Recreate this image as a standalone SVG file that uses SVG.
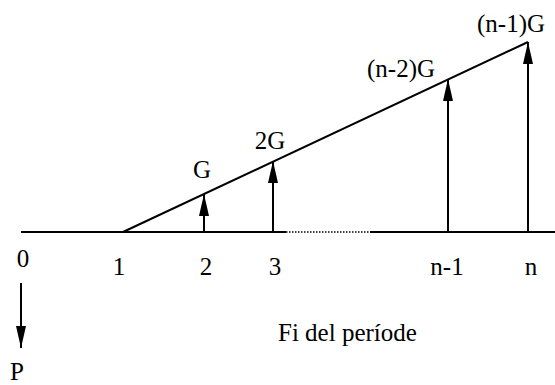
<svg xmlns="http://www.w3.org/2000/svg" width="555" height="385" viewBox="0 0 555 385">
<style>
text{font-family:"Liberation Serif","Times New Roman",serif;font-size:25px;fill:#000}
.ln{stroke:#000;stroke-width:2;fill:none}
.dot{stroke:#000;stroke-width:1.5;stroke-dasharray:1.5 1.5;fill:none}
</style>
<defs>
<marker id="ah" viewBox="0 0 22 10" refX="22" refY="5" markerWidth="22" markerHeight="10" markerUnits="userSpaceOnUse" orient="auto">
<path d="M0,0 L22,5 L0,10 Z" fill="#000"/>
</marker>
</defs>
<rect width="555" height="385" fill="#fff"/>
<g id="axis">
<line class="ln" x1="21" y1="232" x2="286" y2="232"/>
<line class="dot" x1="286" y1="232" x2="370" y2="232"/>
<line class="ln" x1="370" y1="232" x2="555" y2="232"/>
<line class="ln" x1="123" y1="232" x2="528" y2="42"/>
</g>
<g id="connectors">
<line class="ln" x1="204" y1="232" x2="204" y2="194" marker-end="url(#ah)"/>
<line class="ln" x1="273" y1="232" x2="273" y2="161" marker-end="url(#ah)"/>
<line class="ln" x1="448" y1="232" x2="448" y2="79" marker-end="url(#ah)"/>
<line class="ln" x1="528" y1="232" x2="528" y2="42" marker-end="url(#ah)"/>
<line class="ln" x1="21" y1="283" x2="21" y2="348" marker-end="url(#ah)"/>
</g>
<g id="labels">
<text x="23" y="267" text-anchor="middle">0</text>
<text x="119" y="275" text-anchor="middle">1</text>
<text x="206" y="275" text-anchor="middle">2</text>
<text x="275" y="275" text-anchor="middle">3</text>
<text x="447" y="275" text-anchor="middle">n-1</text>
<text x="531" y="275" text-anchor="middle">n</text>
<text x="202" y="178" text-anchor="middle">G</text>
<text x="270" y="149" text-anchor="middle">2G</text>
<text x="401" y="77" text-anchor="middle">(n-2)G</text>
<text x="511" y="32" text-anchor="middle">(n-1)G</text>
<text x="278" y="341">Fi del període</text>
<text x="17" y="380" text-anchor="middle">P</text>
</g>
</svg>
